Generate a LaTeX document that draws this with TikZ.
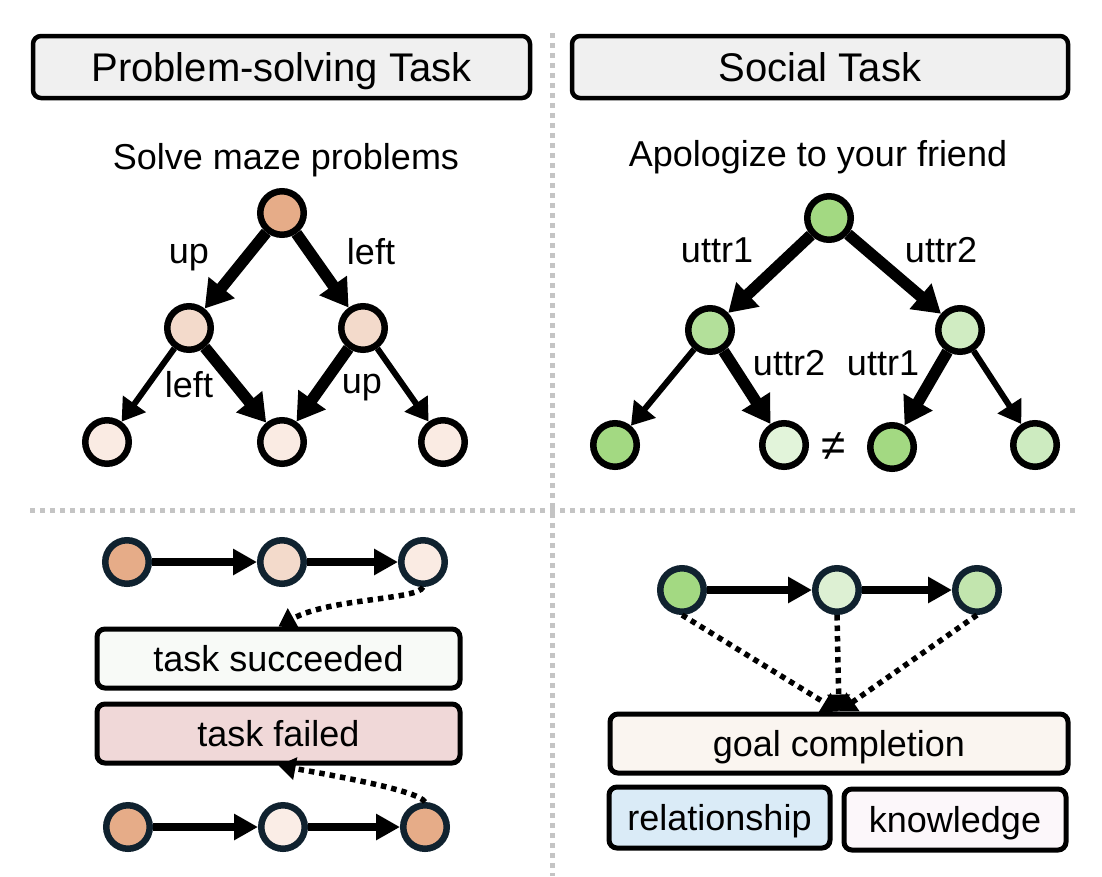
\documentclass[tikz,border=0pt]{standalone}
\usepackage{fontspec}
\setmainfont{Liberation Sans}
\usetikzlibrary{arrows.meta}
\definecolor{hdrfill}{HTML}{F0F0F0}
\definecolor{divgray}{HTML}{C4C4C4}
\definecolor{navy}{HTML}{10222F}
\definecolor{or1}{HTML}{E6AC88}
\definecolor{or2}{HTML}{F3DACB}
\definecolor{or3}{HTML}{FAEBE3}
\definecolor{or4}{HTML}{FAEDE6}
\definecolor{gr1}{HTML}{A3D982}
\definecolor{gr2}{HTML}{B3E09A}
\definecolor{gr3}{HTML}{D0ECC2}
\definecolor{gr4}{HTML}{E2F4DA}
\definecolor{gr5}{HTML}{CDEBC0}
\definecolor{gr6}{HTML}{DDF0D3}
\definecolor{gr7}{HTML}{C2E5AE}
\definecolor{succfill}{HTML}{F8FAF7}
\definecolor{failfill}{HTML}{F0D8D8}
\definecolor{goalfill}{HTML}{FAF5F0}
\definecolor{relfill}{HTML}{DAEBF7}
\definecolor{knowfill}{HTML}{FCF7FA}
\begin{document}
\begin{tikzpicture}[x=1pt,y=-1pt,
  circ/.style={circle, draw=black, line width=6.5pt, inner sep=0pt, minimum size=43.5pt},
  ncirc/.style={circ, draw=navy},
  tbox/.style={draw=black, rounded corners=8pt, line width=5pt, inner sep=0pt, text height=26pt, text depth=0pt, font=\fontsize{36}{40}\selectfont},
  hbox/.style={tbox, fill=hdrfill, line width=4.5pt, text height=28.6pt, font=\fontsize{40}{44}\selectfont},
  lbl/.style={font=\fontsize{36}{40}\selectfont, inner sep=0pt},
  thickarr/.style={line width=11.5pt, -{Triangle[length=27pt,width=32pt]}},
  thinarr/.style={line width=6pt, -{Triangle[length=22pt,width=27pt]}},
  chainarr/.style={line width=7.5pt, -{Triangle[length=24pt,width=25pt]}},
  dotarr/.style={line width=5.5pt, dash pattern=on 5.5pt off 5pt, -{Triangle[length=17pt,width=22pt]}},
  divline/.style={draw=divgray, line width=5pt, dash pattern=on 5pt off 5pt}
]
\useasboundingbox (0,0) rectangle (1102,876);

% dividers
\draw[divline] (552,33) -- (552,876);
\draw[divline] (30,510) -- (1075,510);

% headers
\node[hbox, minimum width=497pt, minimum height=62pt] (hl) at (281.5,67) {Problem-solving Task};
\node[hbox, minimum width=496pt, minimum height=62pt] (hr) at (820,67) {Social Task};
\node[lbl] (tl) at (286,160) {Solve maze problems};
\node[lbl] (tr) at (818,157) {Apologize to your friend};

% left tree
\node[circ, fill=or1] (a) at (282,213) {};
\node[circ, fill=or2] (b1) at (189,328) {};
\node[circ, fill=or2] (b2) at (363,328) {};
\node[circ, fill=or3] (c1) at (107,442) {};
\node[circ, fill=or3] (c2) at (282,442) {};
\node[circ, fill=or3] (c3) at (443,442) {};
\draw[thickarr] (a) -- (b1);
\draw[thickarr] (a) -- (b2);
\draw[thinarr] (b1) -- (c1);
\draw[thickarr] (b1) -- (c2);
\draw[thickarr] (b2) -- (c2);
\draw[thinarr] (b2) -- (c3);
\node[lbl] (l1) at (189,258) {up};
\node[lbl] (l2) at (371,252) {left};
\node[lbl] (l3) at (189,385) {left};
\node[lbl] (l4) at (362,388) {up};

% right tree
\node[circ, fill=gr1] (ra) at (829,218) {};
\node[circ, fill=gr2] (rb1) at (710,330) {};
\node[circ, fill=gr3] (rb2) at (960,330) {};
\node[circ, fill=gr1] (rc1) at (615,445) {};
\node[circ, fill=gr4] (rc2) at (784,445) {};
\node[circ, fill=gr1] (rc3) at (892,447) {};
\node[circ, fill=gr5] (rc4) at (1035,445) {};
\draw[thickarr] (ra) -- (rb1);
\draw[thickarr] (ra) -- (rb2);
\draw[thinarr] (rb1) -- (rc1);
\draw[thickarr] (rb1) -- (rc2);
\draw[thickarr] (rb2) -- (rc3);
\draw[thinarr] (rb2) -- (rc4);
\node[lbl] (rl1) at (717,250) {uttr1};
\node[lbl] (rl2) at (941,250) {uttr2};
\node[lbl] (rl3) at (789,363) {uttr2};
\node[lbl] (rl4) at (883,363) {uttr1};
\node[lbl, font=\fontsize{44}{48}\selectfont] (neq) at (834,447) {≠};

% bottom left
\node[ncirc, fill=or1] (p1) at (127,562) {};
\node[ncirc, fill=or2] (p2) at (282,562) {};
\node[ncirc, fill=or3] (p3) at (423,562) {};
\draw[chainarr] (p1) -- (p2);
\draw[chainarr] (p2) -- (p3);
\node[tbox, fill=succfill, minimum width=363pt, minimum height=59pt] (succ) at (278.5,658.5) {task succeeded};
\node[tbox, fill=failfill, minimum width=363pt, minimum height=59pt] (fail) at (278.5,733.5) {task failed};
\node[ncirc, fill=or1] (q1) at (128,827) {};
\node[ncirc, fill=or4] (q2) at (283,827) {};
\node[ncirc, fill=or1] (q3) at (425,827) {};
\draw[chainarr] (q1) -- (q2);
\draw[chainarr] (q2) -- (q3);
\draw[dotarr] (p3.south) .. controls (418,600) and (330,598) .. (succ.north);
\draw[dotarr] (q3.north) .. controls (418,790) and (330,775) .. (fail.south);

% bottom right
\node[ncirc, fill=gr1] (s1) at (682,590) {};
\node[ncirc, fill=gr6] (s2) at (837,590) {};
\node[ncirc, fill=gr7] (s3) at (977,590) {};
\draw[chainarr] (s1) -- (s2);
\draw[chainarr] (s2) -- (s3);
\node[tbox, fill=goalfill, minimum width=458pt, minimum height=59pt] (goal) at (839,743.5) {goal completion};
\node[tbox, fill=relfill, minimum width=221pt, minimum height=61pt] (rel) at (719.5,817.5) {relationship};
\node[tbox, fill=knowfill, minimum width=222pt, minimum height=61pt] (know) at (955,819.5) {knowledge};
\draw[dotarr] (s1.south) -- (goal.north);
\draw[dotarr] (s2.south) -- (goal.north);
\draw[dotarr] (s3.south) -- (goal.north);
\end{tikzpicture}
\end{document}
